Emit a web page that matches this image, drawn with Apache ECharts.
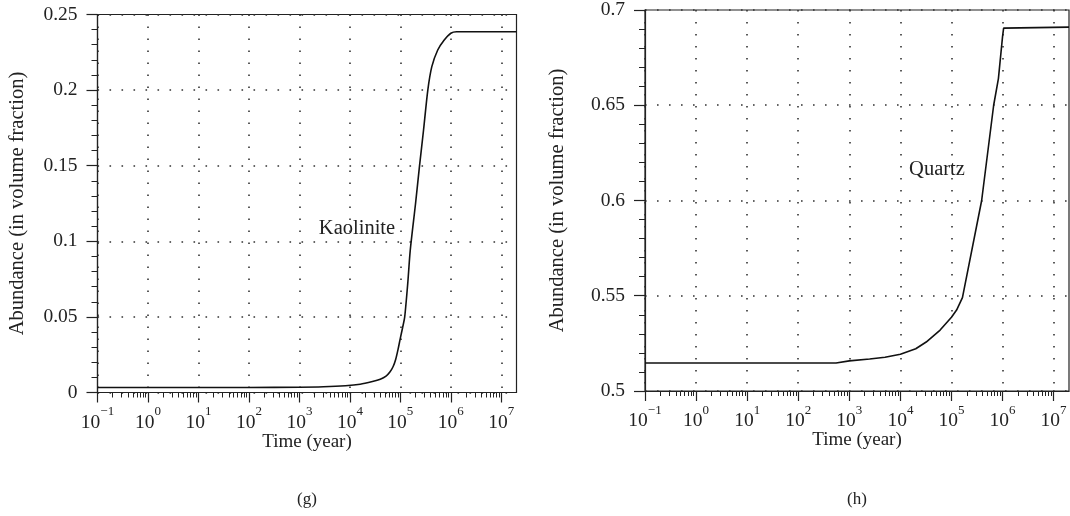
<!DOCTYPE html>
<html>
<head>
<meta charset="utf-8">
<script src="https://cdn.jsdelivr.net/npm/echarts@6/dist/echarts.min.js"></script>
<style>
  html, body { margin: 0; padding: 0; background: #fff; }
  #chartDIV { width: 1070px; height: 516px; }
</style>
</head>
<body>
<div id="chartDIV"></div>
<script>
// time (year) / abundance pairs
var kaoliniteTime = [0.1, 100, 1000, 3000, 8200, 16000, 28000, 40000, 52000, 62000, 72000, 81000, 90000, 100000, 111000, 122000, 140000, 157000, 200000, 240000, 288000, 350000, 420000, 550000, 740000, 1000000, 1300000, 20000000];
var kaoliniteVal = [0.0033, 0.0033, 0.0035, 0.0038, 0.0045, 0.0055, 0.0073, 0.0088, 0.0108, 0.0135, 0.0172, 0.022, 0.0285, 0.036, 0.043, 0.05, 0.072, 0.094, 0.125, 0.15, 0.1736, 0.2, 0.2155, 0.2265, 0.2331, 0.2376, 0.2386, 0.2386];

var quartzTime = [0.1, 550, 560, 1000, 2500, 5000, 10000, 20000, 32000, 60000, 100000, 126000, 164000, 390000, 670000, 830000, 1000000, 1050000, 1120000, 20000000];
var quartzVal = [0.5147, 0.5147, 0.5156, 0.5158, 0.5168, 0.5177, 0.5193, 0.5222, 0.5257, 0.532, 0.5387, 0.5425, 0.549, 0.6, 0.65, 0.664, 0.686, 0.6905, 0.691, 0.691];

// decade ticks on the time axis, and the 2..9 minor ticks between them
var xMajorTicks = [0.1, 1, 10, 100, 1000, 10000, 100000, 1000000, 10000000];
var xMinorTicks = [];
for (var d = 0; d < xMajorTicks.length - 1; d++) {
    for (var m = 2; m <= 9; m++) xMinorTicks.push(m * xMajorTicks[d]);
}

var yTicksG = [0, 0.05, 0.1, 0.15, 0.2, 0.25];
var yTicksH = [0.5, 0.55, 0.6, 0.65, 0.7];

var FONT = '"Liberation Serif", "DejaVu Serif", serif';
var INK = '#222';
var DOTS = { color: '#333', width: 1.6, type: [1.6, 10.4] };

function pairs(xs, ys) {
    var out = [];
    for (var i = 0; i < xs.length; i++) out.push([xs[i], ys[i]]);
    return out;
}

// 10^n labels
function powLabel(v) {
    var e = Math.round(Math.log(v) / Math.LN10);
    return '{b|10}{sup|' + (e < 0 ? '\u2212' + (-e) : e) + '}';
}

function xAxisFor(gridIndex) {
    return {
        type: 'log',
        gridIndex: gridIndex,
        logBase: 10,
        min: 0.1,
        max: 20000000,
        name: 'Time (year)',
        nameLocation: 'middle',
        nameGap: 40,
        nameMoveOverlap: false,
        nameTextStyle: { fontFamily: FONT, fontSize: 19, color: INK },
        axisLine: { lineStyle: { color: INK, width: 1.2 } },
        axisTick: { show: true, length: 10, customValues: xMajorTicks, lineStyle: { color: INK, width: 1.2 } },
        splitLine: { show: true, lineStyle: DOTS },
        axisLabel: {
            margin: 13,
            customValues: xMajorTicks,
            hideOverlap: false,
            formatter: powLabel,
            rich: {
                b: { fontFamily: FONT, fontSize: 19.5, color: INK, lineHeight: 27, verticalAlign: 'bottom' },
                sup: { fontFamily: FONT, fontSize: 13, color: INK, lineHeight: 14, verticalAlign: 'top' }
            }
        }
    };
}

// second axis on the same grid, only for the short minor ticks
function xMinorAxisFor(gridIndex) {
    return {
        type: 'log',
        gridIndex: gridIndex,
        logBase: 10,
        min: 0.1,
        max: 20000000,
        position: 'bottom',
        axisLine: { show: false },
        axisLabel: { show: false },
        splitLine: { show: false },
        axisTick: { show: true, length: 5, customValues: xMinorTicks, lineStyle: { color: INK, width: 1 } }
    };
}

function yAxisFor(gridIndex, ticks, gap) {
    return {
        type: 'value',
        gridIndex: gridIndex,
        min: ticks[0],
        max: ticks[ticks.length - 1],
        interval: 0.05,
        name: 'Abundance (in volume fraction)',
        nameLocation: 'middle',
        nameGap: gap,
        nameMoveOverlap: false,
        nameTextStyle: { fontFamily: FONT, fontSize: 20.5, color: INK },
        axisLine: { show: true, lineStyle: { color: INK, width: 1.2 } },
        axisTick: { show: true, length: 11, lineStyle: { color: INK, width: 1.2 } },
        minorTick: { show: true, splitNumber: 5, length: 6, lineStyle: { color: INK, width: 1 } },
        splitLine: { show: true, lineStyle: DOTS },
        axisLabel: {
            margin: 20,
            fontFamily: FONT,
            fontSize: 19.5,
            color: INK,
            formatter: function (v) { return String(+v.toFixed(2)); }
        }
    };
}

var myChart = echarts.init(document.getElementById('chartDIV'));

var option = {
    animation: false,
    backgroundColor: '#fff',
    grid: [
        { left: 97.5, top: 14.5, width: 419, height: 378, show: true, borderColor: INK, borderWidth: 1.2, containLabel: false },
        { left: 645, top: 6.7, width: 424, height: 384.3, show: true, borderColor: INK, borderWidth: 1.2, containLabel: false }
    ],
    xAxis: [xAxisFor(0), xMinorAxisFor(0), xAxisFor(1), xMinorAxisFor(1)],
    yAxis: [yAxisFor(0, yTicksG, 69), yAxisFor(1, yTicksH, 77)],
    series: [
        {
            name: 'Kaolinite',
            type: 'line',
            xAxisIndex: 0,
            yAxisIndex: 0,
            data: pairs(kaoliniteTime, kaoliniteVal),
            showSymbol: false,
            smooth: 0.25,
            lineStyle: { color: '#111', width: 1.6 }
        },
        {
            name: 'Quartz',
            type: 'line',
            xAxisIndex: 2,
            yAxisIndex: 1,
            data: pairs(quartzTime, quartzVal),
            showSymbol: false,
            lineStyle: { color: '#111', width: 1.6 }
        }
    ],
    graphic: [
        { type: 'text', x: 357, y: 229, style: { text: 'Kaolinite', font: '20.5px ' + FONT, fill: INK, textAlign: 'center', textVerticalAlign: 'middle' } },
        { type: 'text', x: 937, y: 170, style: { text: 'Quartz', font: '20.5px ' + FONT, fill: INK, textAlign: 'center', textVerticalAlign: 'middle' } },
        { type: 'text', x: 307, y: 500, style: { text: '(g)', font: '17px ' + FONT, fill: INK, textAlign: 'center', textVerticalAlign: 'middle' } },
        { type: 'text', x: 857, y: 500, style: { text: '(h)', font: '17px ' + FONT, fill: INK, textAlign: 'center', textVerticalAlign: 'middle' } }
    ]
};

myChart.setOption(option);
</script>
</body>
</html>
